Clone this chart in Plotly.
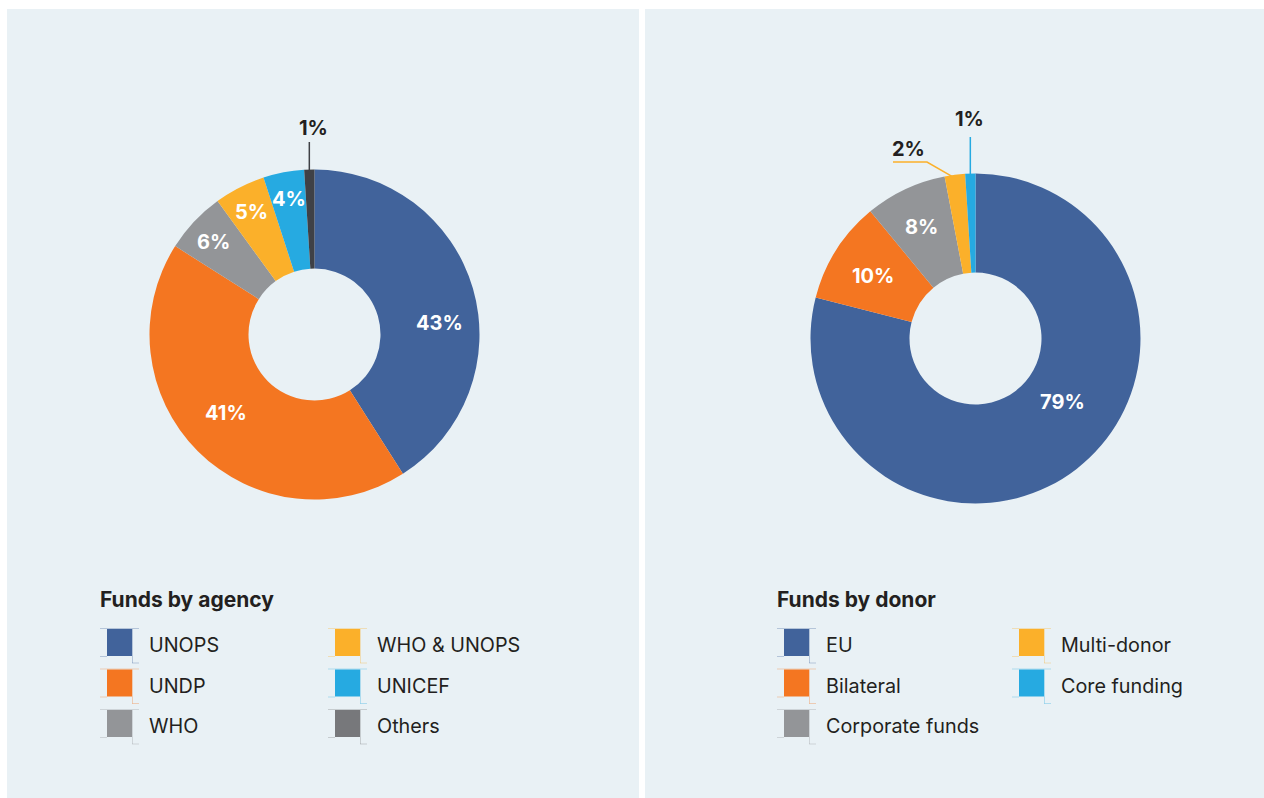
import math
import plotly.graph_objects as go

W, H = 1264, 798

# ---- data ----
agency_labels = ["UNOPS", "UNDP", "WHO", "WHO & UNOPS", "UNICEF", "Others"]
# slice sizes as drawn in the picture
agency_values = [41, 43, 6, 5, 4, 1]
# percentages as printed on the slices
agency_pct = [43, 41, 6, 5, 4, 1]
agency_colors = ["#41639B", "#F47621", "#939598", "#FBB02A", "#26AAE1", "#3F4146"]
agency_legend_colors = ["#41639B", "#F47621", "#939598", "#FBB02A", "#26AAE1", "#77787B"]

donor_labels = ["EU", "Bilateral", "Corporate funds", "Multi-donor", "Core funding"]
donor_values = [79, 10, 8, 2, 1]
donor_pct = [79, 10, 8, 2, 1]
donor_colors = ["#41639B", "#F47621", "#939598", "#FBB02A", "#26AAE1"]

# where the inside labels sit (pixels), None = labelled outside
agency_label_pos = [(439, 323), (226, 413), (214, 242), (251, 212), (289, 199), None]
donor_label_pos = [(1062, 402), (873, 276), (921, 227), None, None]

PANEL_BG = "#E9F1F5"
DARK = "#231F20"
FONT = "Inter, Roboto, sans-serif"
R = 165


def px(x):
    return x / W


def py(y):
    return 1 - y / H


def slice_point(values, idx, cx, cy, r):
    """Pixel point on the outer edge at the middle of slice idx (clockwise from 12)."""
    total = sum(values)
    mid = (sum(values[:idx]) + values[idx] / 2) / total
    a = 2 * math.pi * mid
    return cx + r * math.sin(a), cy - r * math.cos(a)


def pie(labels, values, colors, cx, cy):
    return go.Pie(
        labels=labels, values=values, textinfo="none",
        sort=False, direction="clockwise", rotation=0, hole=0.4,
        marker=dict(colors=colors, line=dict(width=0)),
        domain=dict(x=[px(cx - R), px(cx + R)], y=[py(cy + R), py(cy - R)]),
        showlegend=False, hoverinfo="label+percent",
    )


fig = go.Figure()
LCX, LCY = 314.5, 334.5
RCX, RCY = 975.5, 338.5
fig.add_trace(pie(agency_labels, agency_values, agency_colors, LCX, LCY))
fig.add_trace(pie(donor_labels, donor_values, donor_colors, RCX, RCY))

shapes = []
annotations = []

# panel backgrounds
for x0, x1 in [(7, 639), (645, 1264)]:
    shapes.append(dict(type="rect", xref="paper", yref="paper", x0=px(x0), x1=px(x1),
                       y0=py(798), y1=py(9), fillcolor=PANEL_BG, line=dict(width=0),
                       layer="below"))


def pct_label(text, x, y, color):
    annotations.append(dict(text=f"<b>{text}</b>", xref="paper", yref="paper",
                            x=px(x), y=py(y), showarrow=False, xanchor="center",
                            yanchor="middle", font=dict(family=FONT, size=20, color=color)))


for pcts, positions in [(agency_pct, agency_label_pos), (donor_pct, donor_label_pos)]:
    for v, pos in zip(pcts, positions):
        if pos is not None:
            pct_label(f"{v}%", pos[0], pos[1], "white")

# left: Others 1%
ex, ey = slice_point(agency_values, 5, LCX, LCY, R)
shapes.append(dict(type="line", xref="paper", yref="paper", x0=px(ex), x1=px(ex),
                   y0=py(ey + 1), y1=py(142), line=dict(color="#3F4146", width=1.5)))
pct_label(f"{agency_pct[5]}%", ex + 4, 128, DARK)

# right: Core funding 1%
ex, ey = slice_point(donor_values, 4, RCX, RCY, R)
shapes.append(dict(type="line", xref="paper", yref="paper", x0=px(ex), x1=px(ex),
                   y0=py(ey + 1), y1=py(137), line=dict(color="#26AAE1", width=1.5)))
pct_label(f"{donor_pct[4]}%", ex - 1, 119, DARK)

# right: Multi-donor 2% (bent leader)
ex, ey = slice_point(donor_values, 3, RCX, RCY, R)
path = (f"M {px(ex - 2)} {py(ey + 2)} L {px(927)} {py(162)} L {px(893)} {py(162)}")
shapes.append(dict(type="path", xref="paper", yref="paper", path=path,
                   line=dict(color="#FBB02A", width=1.5)))
pct_label(f"{donor_pct[3]}%", 909, 149, DARK)


def legend_block(title, labels, colors, tx, col_x, text_dx, rows_per_col=3):
    annotations.append(dict(text=f"<b>{title}</b>", xref="paper", yref="paper",
                            x=px(tx), y=py(599), showarrow=False, xanchor="left",
                            yanchor="middle", font=dict(family=FONT, size=21, color=DARK)))
    for i, (lab, col) in enumerate(zip(labels, colors)):
        c, r = divmod(i, rows_per_col)
        x0 = col_x[c]
        x1 = x0 + 25
        y0 = 629 + r * 40.5
        y1 = y0 + 27
        faint = dict(color=col, width=1)
        shapes.append(dict(type="rect", xref="paper", yref="paper", x0=px(x0), x1=px(x1),
                           y0=py(y1), y1=py(y0), fillcolor=col, line=dict(width=0)))
        # faint cell rules around the swatch
        shapes.append(dict(type="line", xref="paper", yref="paper", x0=px(x0 - 7),
                           x1=px(x1 + 7), y0=py(y0 - 0.5), y1=py(y0 - 0.5),
                           line=faint, opacity=0.3))
        shapes.append(dict(type="line", xref="paper", yref="paper", x0=px(x0 - 7),
                           x1=px(x0), y0=py(y1 + 0.5), y1=py(y1 + 0.5),
                           line=faint, opacity=0.3))
        shapes.append(dict(type="line", xref="paper", yref="paper", x0=px(x1 + 0.5),
                           x1=px(x1 + 0.5), y0=py(y0), y1=py(y1 + 7),
                           line=faint, opacity=0.3))
        shapes.append(dict(type="line", xref="paper", yref="paper", x0=px(x1),
                           x1=px(x1 + 7), y0=py(y1 + 7), y1=py(y1 + 7),
                           line=faint, opacity=0.3))
        annotations.append(dict(text=lab, xref="paper", yref="paper",
                                x=px(x0 + text_dx), y=py((y0 + y1) / 2 + 2.5),
                                showarrow=False, xanchor="left", yanchor="middle",
                                font=dict(family=FONT, size=19.8, color=DARK)))


legend_block("Funds by agency", agency_labels, agency_legend_colors, 98, [107, 335], 40)
legend_block("Funds by donor", donor_labels, donor_colors, 775, [784, 1019], 40)

fig.update_layout(
    width=W, height=H,
    margin=dict(l=0, r=0, t=0, b=0),
    paper_bgcolor="white", plot_bgcolor="white",
    font=dict(family=FONT, color=DARK),
    shapes=shapes, annotations=annotations,
    showlegend=False,
)

fig.write_html("out.html", config={"displayModeBar": False},
               post_script="document.body.style.margin='0px';")
